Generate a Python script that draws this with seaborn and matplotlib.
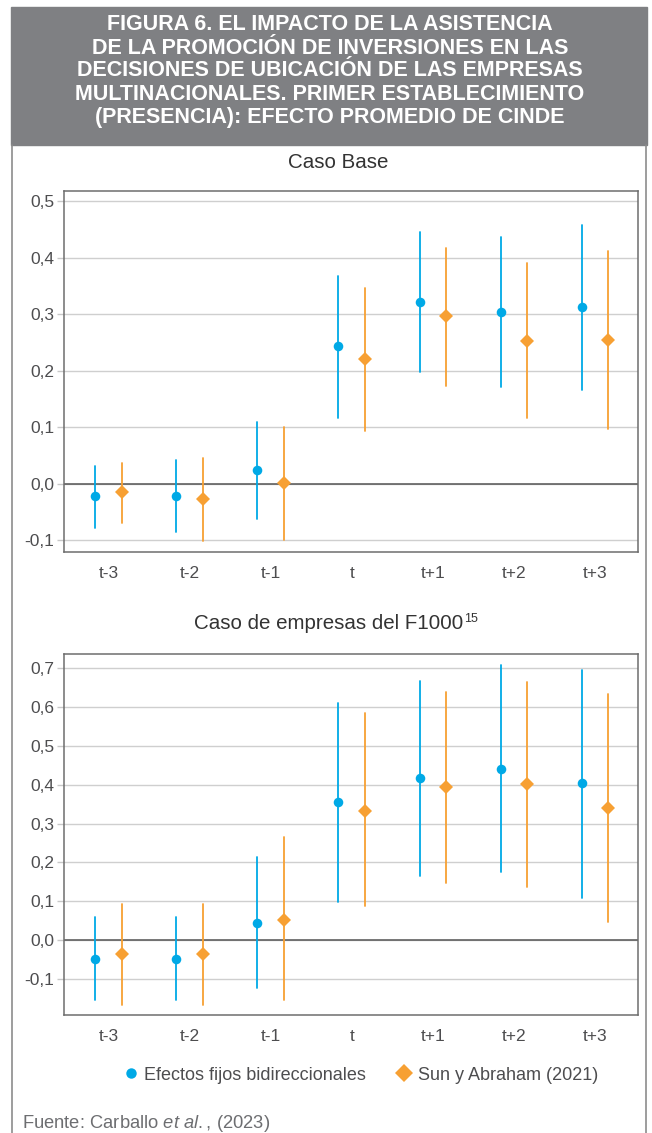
import seaborn as sns
import matplotlib.pyplot as plt
import pandas as pd
import numpy as np
from matplotlib.lines import Line2D
from matplotlib.patches import Rectangle
from matplotlib.ticker import MultipleLocator, FuncFormatter

# Values (point estimate, lower and upper bound of the interval)
periods = ['t-3', 't-2', 't-1', 't', 't+1', 't+2', 't+3']
series = ['Efectos fijos bidireccionales', 'Sun y Abraham (2021)']

base_twfe = [-0.022, -0.022, 0.024, 0.243, 0.322, 0.304, 0.312]
base_twfe_lo = [-0.078, -0.086, -0.063, 0.116, 0.197, 0.171, 0.165]
base_twfe_hi = [0.031, 0.041, 0.109, 0.368, 0.445, 0.436, 0.458]
base_sa = [-0.014, -0.028, 0.001, 0.220, 0.297, 0.253, 0.254]
base_sa_lo = [-0.070, -0.102, -0.100, 0.093, 0.173, 0.116, 0.096]
base_sa_hi = [0.037, 0.045, 0.100, 0.346, 0.417, 0.390, 0.411]

f1000_twfe = [-0.049, -0.049, 0.045, 0.356, 0.417, 0.442, 0.405]
f1000_twfe_lo = [-0.155, -0.155, -0.124, 0.098, 0.165, 0.176, 0.109]
f1000_twfe_hi = [0.059, 0.059, 0.214, 0.611, 0.668, 0.708, 0.697]
f1000_sa = [-0.036, -0.036, 0.052, 0.333, 0.394, 0.403, 0.341]
f1000_sa_lo = [-0.168, -0.168, -0.155, 0.087, 0.148, 0.138, 0.047]
f1000_sa_hi = [0.093, 0.093, 0.265, 0.586, 0.638, 0.664, 0.634]

title_lines = ['FIGURA 6. EL IMPACTO DE LA ASISTENCIA',
               'DE LA PROMOCIÓN DE INVERSIONES EN LAS',
               'DECISIONES DE UBICACIÓN DE LAS EMPRESAS',
               'MULTINACIONALES. PRIMER ESTABLECIMIENTO',
               '(PRESENCIA): EFECTO PROMEDIO DE CINDE']

blue = '#00A9E6'
orange = '#F7A033'
txt = '#4d4d4f'


def long_frame(twfe, twfe_lo, twfe_hi, sa, sa_lo, sa_hi):
    rows = []
    for name, est, lo, hi in [(series[0], twfe, twfe_lo, twfe_hi),
                              (series[1], sa, sa_lo, sa_hi)]:
        for p, e, l, h in zip(periods, est, lo, hi):
            for v in (l, e, h):
                rows.append({'Periodo': p, 'Serie': name, 'valor': v})
    return pd.DataFrame(rows)


df_base = long_frame(base_twfe, base_twfe_lo, base_twfe_hi, base_sa, base_sa_lo, base_sa_hi)
df_f1000 = long_frame(f1000_twfe, f1000_twfe_lo, f1000_twfe_hi, f1000_sa, f1000_sa_lo, f1000_sa_hi)

sns.set_style('white')
plt.rcParams['font.family'] = ['Liberation Sans', 'DejaVu Sans']
plt.rcParams['mathtext.fontset'] = 'custom'
plt.rcParams['mathtext.rm'] = 'Liberation Sans'
plt.rcParams['mathtext.it'] = 'Liberation Sans:italic'

W, H = 652, 1133
fig = plt.figure(figsize=(W / 100, H / 100), dpi=100)

# header band and frame
fig.patches.append(Rectangle((11 / W, 1 - 145 / H), 636 / W, 138 / H,
                             transform=fig.transFigure, color='#7f8083', zorder=0))
for xf in (11.5 / W, 646 / W):
    fig.add_artist(Line2D([xf, xf], [0, 1 - 145 / H], transform=fig.transFigure,
                          color='#8c8c8c', lw=1.2))
for i, line in enumerate(title_lines):
    fig.text(330 / W, 1 - (25 + 23 * i) / H, line, ha='center', va='center',
             color='white', fontsize=15.5, fontweight='bold')


def fmt(v, pos):
    v = round(v, 2)
    if v == 0:
        v = 0.0
    return f'{v:.1f}'.replace('.', ',')


def panel(ax, data, ylim):
    sns.pointplot(data=data, x='Periodo', y='valor', hue='Serie', order=periods,
                  hue_order=series, palette=[blue, orange], markers=['o', 'D'],
                  linestyles='none', dodge=0.33, estimator=np.median,
                  errorbar=lambda v: (v.min(), v.max()),
                  err_kws={'linewidth': 1.3}, markersize=6.9,
                  markeredgewidth=0, legend=False, ax=ax)
    ax.set_xlim(-0.55, 6.53)
    ax.set_ylim(*ylim)
    ax.yaxis.set_major_locator(MultipleLocator(0.1))
    ax.yaxis.set_major_formatter(FuncFormatter(fmt))
    ax.grid(axis='y', color='#cfcfcf', lw=1.0, zorder=0)
    ax.grid(axis='x', visible=False)
    ax.set_axisbelow(True)
    ax.axhline(0, color='#555555', lw=1.1, zorder=1)
    ax.set_xlabel('')
    ax.set_ylabel('')
    for s in ax.spines.values():
        s.set_color('#6d6d6d')
        s.set_linewidth(1.1)
    ax.tick_params(axis='x', length=4, width=1, color='#6d6d6d', labelsize=12.5,
                   labelcolor=txt, pad=6)
    ax.tick_params(axis='y', length=5, width=1, color='#c8c8c8', labelsize=12.5,
                   labelcolor=txt, pad=2, left=True)


ax1 = fig.add_axes([64 / W, 1 - 552 / H, 574 / W, 361 / H])
panel(ax1, df_base, (-0.121, 0.518))
ax2 = fig.add_axes([64 / W, 1 - 1015 / H, 574 / W, 361 / H])
panel(ax2, df_f1000, (-0.193, 0.737))

fig.text(338 / W, 1 - 163 / H, 'Caso Base', ha='center', va='center',
         fontsize=14.8, color='#333333')
fig.text(463 / W, 1 - 629 / H, 'Caso de empresas del F1000', ha='right',
         va='baseline', fontsize=14.8, color='#333333')
fig.text(464 / W, 1 - 622 / H, '15', ha='left', va='baseline',
         fontsize=9, color='#333333')

handles = [Line2D([], [], marker='o', ls='none', color=blue, markersize=7.5, mew=0),
           Line2D([], [], marker='D', ls='none', color=orange, markersize=9.5, mew=0)]
leg = fig.legend(handles, series, loc='center', bbox_to_anchor=(359 / W, 1 - 1075 / H),
                 ncol=2, frameon=False, fontsize=13, handletextpad=0.15,
                 columnspacing=1.5, handlelength=1.2)
for t in leg.get_texts():
    t.set_color(txt)

fig.text(22 / W, 1 - 1123 / H, r'Fuente: Carballo $\mathit{et\ al.}$, (2023)',
         ha='left', va='center', fontsize=13.2, color='#6d6e71')

plt.savefig('out.png', dpi=100)
